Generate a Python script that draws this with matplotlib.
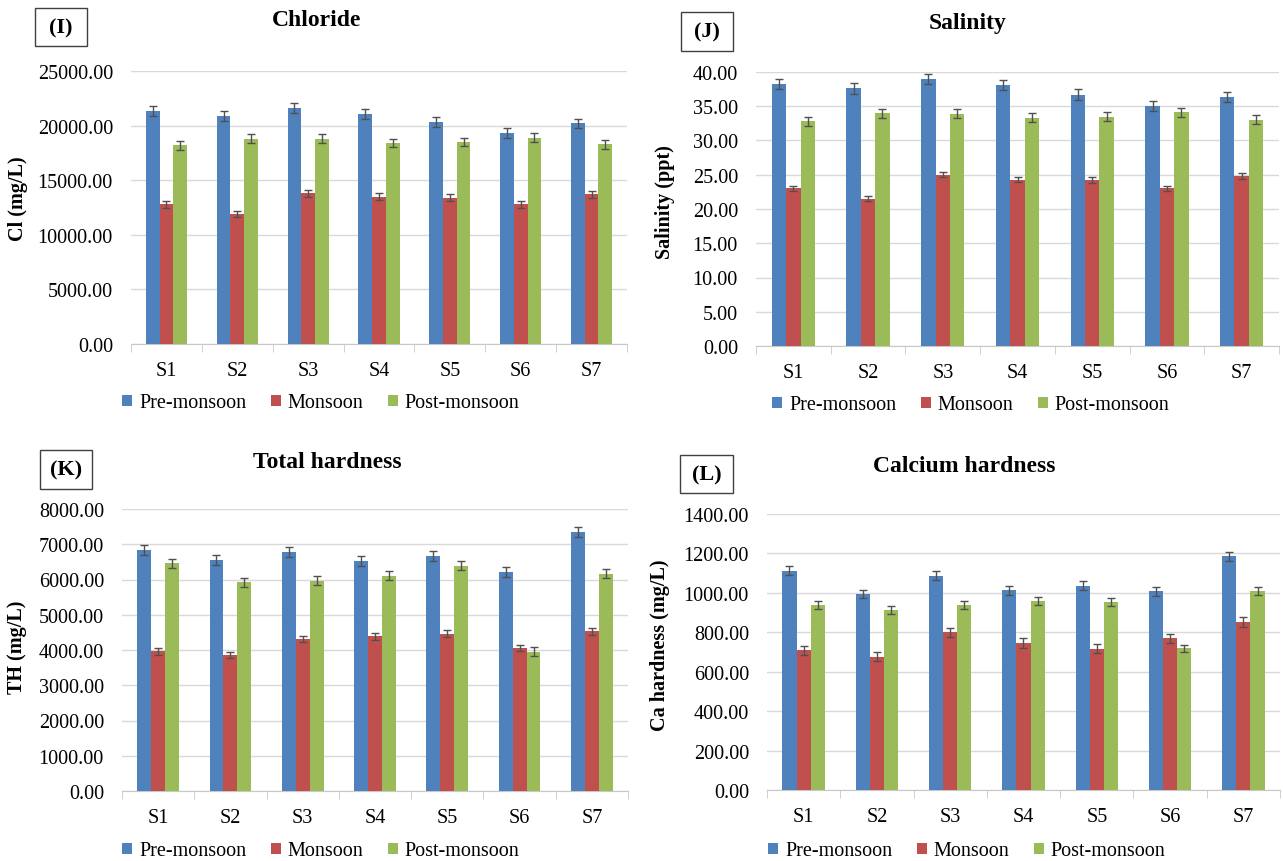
import matplotlib.pyplot as plt
from matplotlib.patches import Rectangle
import numpy as np

plt.rcParams['font.family'] = ['Liberation Serif', 'DejaVu Serif']

sites = ['S1', 'S2', 'S3', 'S4', 'S5', 'S6', 'S7']
seasons = ['Pre-monsoon', 'Monsoon', 'Post-monsoon']
colors = ['#4F81BD', '#C0504D', '#9BBB59']

# Chloride (mg/L)
cl_pre = [21300, 20900, 21600, 21100, 20300, 19300, 20200]
cl_mon = [12800, 11900, 13800, 13500, 13400, 12800, 13700]
cl_post = [18200, 18800, 18800, 18400, 18500, 18900, 18300]
cl_err = [450, 300, 400]

# Salinity (ppt)
sal_pre = [38.3, 37.6, 39.0, 38.1, 36.7, 35.0, 36.4]
sal_mon = [23.0, 21.5, 25.0, 24.3, 24.2, 23.0, 24.8]
sal_post = [32.8, 34.0, 33.9, 33.3, 33.5, 34.1, 33.0]
sal_err = [0.75, 0.4, 0.65]

# Total hardness (mg/L)
th_pre = [6846, 6544, 6770, 6525, 6657, 6223, 7356]
th_mon = [3966, 3862, 4315, 4391, 4467, 4060, 4533]
th_post = [6459, 5921, 5968, 6110, 6393, 3957, 6166]
th_err = [140, 95, 120]

# Calcium hardness (mg/L)
ca_pre = [1113, 995, 1088, 1013, 1037, 1008, 1186]
ca_mon = [708, 676, 799, 745, 717, 769, 853]
ca_post = [938, 914, 938, 958, 953, 718, 1010]
ca_err = [22, 24, 20]

W, H = 1283, 862
fig = plt.figure(figsize=(W / 100, H / 100), dpi=100)


def px_axes(x0, y0, x1, y1):
    # pixel box (top-left origin) -> figure axes
    return fig.add_axes([x0 / W, 1 - y1 / H, (x1 - x0) / W, (y1 - y0) / H])


def panel(box, series, errs, ymax, ystep, title, title_xy, ylabel, ylab_xy,
          tag, tag_box, leg_xy):
    x0, y0, x1, y1 = box
    ax = px_axes(x0, y0, x1, y1)
    x = np.arange(len(sites))
    w = 0.193
    for i, (vals, err) in enumerate(zip(series, errs)):
        ax.bar(x + (i - 1) * w, vals, w, color=colors[i], label=seasons[i],
               yerr=err, error_kw=dict(ecolor='#505050', elinewidth=1,
                                       capsize=2.6, capthick=1), zorder=3)
    ax.set_xlim(-0.5, len(sites) - 0.5)
    ax.set_ylim(0, ymax)
    ax.set_yticks(np.arange(0, ymax + ystep / 2, ystep))
    ax.yaxis.set_major_formatter(plt.FormatStrFormatter('%.2f'))
    ax.set_xticks(x)
    ax.set_xticklabels(sites)
    ax.set_xticks(np.arange(-0.5, len(sites)), minor=True)
    ax.tick_params(axis='x', which='major', length=0, pad=12, labelsize=14.5)
    ax.tick_params(axis='x', which='minor', length=6, color='#C8C8C8')
    ax.tick_params(axis='y', length=0, pad=13, labelsize=14.5)
    ax.grid(axis='y', color='#D9D9D9', linewidth=1, zorder=0)
    for s in ['top', 'right', 'left']:
        ax.spines[s].set_visible(False)
    ax.spines['bottom'].set_color('#C8C8C8')
    ax.set_ylabel(ylabel, fontsize=14.5, fontweight='bold')
    ax.yaxis.set_label_coords((ylab_xy[0] - x0) / (x1 - x0),
                              (y1 - ylab_xy[1]) / (y1 - y0))
    ax.yaxis.label.set_va('center')
    fig.text(title_xy[0] / W, 1 - title_xy[1] / H, title, fontsize=17,
             fontweight='bold', ha='center', va='center')
    bx0, by0, bx1, by1 = tag_box
    fig.patches.append(Rectangle((bx0 / W, 1 - by1 / H), (bx1 - bx0) / W,
                                 (by1 - by0) / H, transform=fig.transFigure,
                                 facecolor='white', edgecolor='#404040',
                                 linewidth=1))
    fig.text((bx0 + bx1) / 2 / W, 1 - (by0 + by1) / 2 / H, tag, fontsize=16,
             fontweight='bold', ha='center', va='center')
    ax.legend(loc='center',
              bbox_to_anchor=((leg_xy[0] - x0) / (x1 - x0),
                              (y1 - leg_xy[1]) / (y1 - y0)),
              ncol=3, frameon=False, fontsize=14.5, handlelength=0.5,
              handleheight=0.5, handletextpad=0.35, columnspacing=1.2,
              borderaxespad=0)
    return ax


panel((131, 72, 627, 345), [cl_pre, cl_mon, cl_post], cl_err, 25000, 5000,
      'Chloride', (317, 21), 'Cl (mg/L)', (18, 199), '(I)',
      (35, 9, 87, 47), (321, 404))
panel((756, 73, 1279, 347), [sal_pre, sal_mon, sal_post], sal_err, 40, 5,
      'Salinity', (968, 24), 'Salinity (ppt)', (665, 202), '(J)',
      (681, 13, 733, 52), (971, 406))
panel((122, 510, 628, 792), [th_pre, th_mon, th_post], th_err, 8000, 1000,
      'Total hardness', (327, 463), 'TH (mg/L)', (17, 647), '(K)',
      (40, 451, 92, 490), (321, 852))
panel((767, 515, 1280, 791), [ca_pre, ca_mon, ca_post], ca_err, 1400, 200,
      'Calcium hardness', (964, 467), 'Ca hardness (mg/L)', (660, 645), '(L)',
      (680, 456, 733, 494), (967, 852))

fig.savefig('out.png', dpi=100)
